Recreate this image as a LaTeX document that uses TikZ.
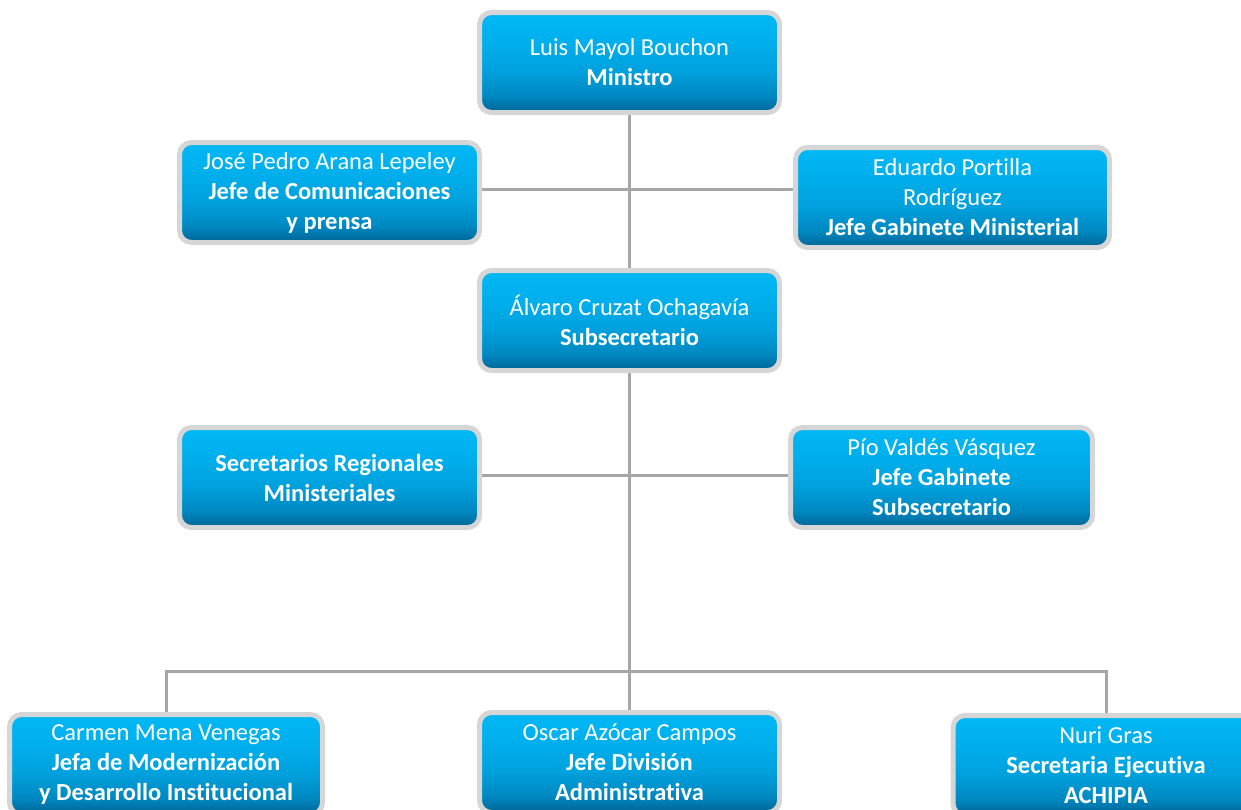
\documentclass[tikz,border=0pt]{standalone}
\usepackage{fontspec}
\setmainfont{Carlito}[Ligatures={NoCommon}]
\usetikzlibrary{backgrounds}
\definecolor{linegray}{RGB}{166,166,166}
\definecolor{ringgray}{RGB}{214,214,214}
\definecolor{shA}{RGB}{0,100,148}
\definecolor{shB}{RGB}{0,135,192}
\definecolor{shC}{RGB}{0,160,220}
\definecolor{shD}{RGB}{0,175,236}
\definecolor{shE}{RGB}{0,184,245}
\pgfdeclareverticalshading{boxshade}{100bp}{%
  color(0bp)=(shA); color(25bp)=(shA); color(33bp)=(shB); color(45bp)=(shC);
  color(60bp)=(shD); color(75bp)=(shE); color(100bp)=(shE)}
\tikzset{
  orgbox/.style={draw=ringgray, line width=5pt, rounded corners=12pt,
    shading=boxshade, text=white, align=center, inner sep=0pt,
    minimum height=100pt, font=\fontsize{24.5}{30}\selectfont},
  link/.style={draw=linegray, line width=3pt},
}
\begin{document}
\begin{tikzpicture}[x=1pt,y=-1pt]
\useasboundingbox (0,0) rectangle (1241,809);
\clip (0,0) rectangle (1241,809);

% heights of the horizontal branch lines
\coordinate (toprow) at (0,189);
\coordinate (midrow) at (0,475);
\coordinate (lowrow) at (0,671);

% boxes
\node[orgbox, minimum width=300pt] (min) at (629.5,62.5)
  {Luis Mayol Bouchon\\\textbf{Ministro}};
\node[orgbox, minimum width=300pt] (com) at (329.5,192.5)
  {José Pedro Arana Lepeley\\\textbf{Jefe de Comunicaciones}\\\textbf{y prensa}};
\node[orgbox, minimum width=314pt] (gab) at (952.5,197.5)
  {Eduardo Portilla\\Rodríguez\\\textbf{Jefe Gabinete Ministerial}};
\node[orgbox, minimum width=300pt] (sub) at (629.5,320.5)
  {Álvaro Cruzat Ochagavía\\\textbf{Subsecretario}};
\node[orgbox, minimum width=300pt] (sere) at (329.5,477.5)
  {\textbf{Secretarios Regionales}\\\textbf{Ministeriales}};
\node[orgbox, minimum width=302pt] (gabs) at (941.5,477.5)
  {Pío Valdés Vásquez\\\textbf{Jefe Gabinete}\\\textbf{Subsecretario}};
\node[orgbox, minimum width=313pt] (mod) at (166,764.5)
  {Carmen Mena Venegas\\\textbf{Jefa de Modernización}\\\textbf{y Desarrollo Institucional}};
\node[orgbox, minimum width=300pt] (adm) at (629.5,762.5)
  {Oscar Azócar Campos\\\textbf{Jefe División}\\\textbf{Administrativa}};
\node[orgbox, minimum width=306pt] (achi) at (1106,765.5)
  {Nuri Gras\\\textbf{Secretaria Ejecutiva}\\\textbf{ACHIPIA}};

% connectors, kept behind the boxes
\begin{scope}[on background layer]
  \draw[link] (min.south) -- (sub.north);
  \draw[link] (com.east |- toprow) -- (gab.west |- toprow);
  \draw[link] (sub.south) -- (adm.north);
  \draw[link] (sere.east |- midrow) -- (gabs.west |- midrow);
  \draw[link] (mod.north) -- (mod.north |- lowrow) -- (achi.north |- lowrow) -- (achi.north);
\end{scope}
\end{tikzpicture}
\end{document}
